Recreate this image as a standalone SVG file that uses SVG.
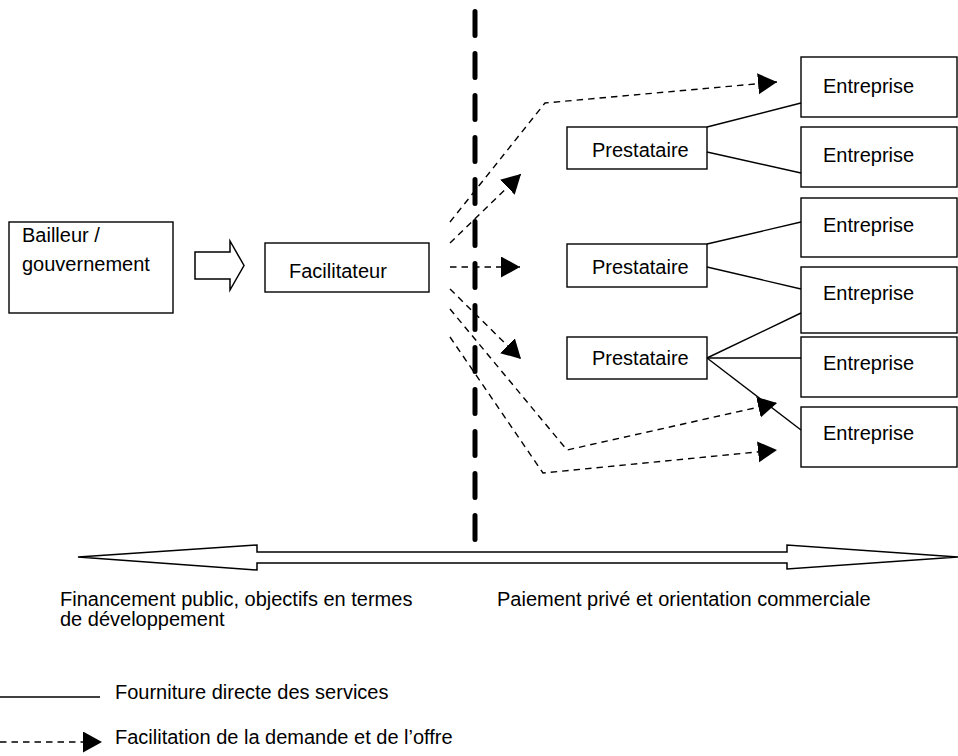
<svg xmlns="http://www.w3.org/2000/svg" width="958" height="756" viewBox="0 0 958 756">
<style>
  text { font-family: "Liberation Sans", Arial, sans-serif; font-size: 20px; fill: #000; }
  .box { fill: #fff; stroke: #000; stroke-width: 1.4; }
  .solid { fill: none; stroke: #000; stroke-width: 1.4; }
  .dash { fill: none; stroke: #000; stroke-width: 1.4; stroke-dasharray: 6.5 5; }
  .vdash { fill: none; stroke: #000; stroke-width: 5; stroke-dasharray: 24 18; stroke-linecap: round; }
  .hollow { fill: #fff; stroke: #000; stroke-width: 1.5; stroke-linejoin: miter; }
</style>
<defs>
  <marker id="ah" markerUnits="userSpaceOnUse" markerWidth="20" markerHeight="22" refX="19" refY="10.5" orient="auto" viewBox="0 0 20 22">
    <path d="M0,0 L19,10.5 L0,21 z" fill="#000"/>
  </marker>
</defs>
<rect width="958" height="756" fill="#fff"/>

<g id="bailleur">
  <rect class="box" x="9" y="222" width="164" height="91"/>
  <text x="22" y="242">Bailleur /</text>
  <text x="22" y="271">gouvernement</text>
</g>

<g id="block-arrow">
  <polygon class="hollow" points="195,252 230,252 230,241 244,265.5 230,290 230,279 195,279"/>
</g>

<g id="facilitateur">
  <rect class="box" x="265" y="243" width="164" height="49"/>
  <text x="289" y="278">Facilitateur</text>
</g>

<g id="prestataire1">
  <rect class="box" x="567" y="127" width="140" height="42"/>
  <text x="592" y="157">Prestataire</text>
</g>
<g id="prestataire2">
  <rect class="box" x="567" y="244" width="140" height="43"/>
  <text x="592" y="274">Prestataire</text>
</g>
<g id="prestataire3">
  <rect class="box" x="567" y="337" width="140" height="42"/>
  <text x="592" y="365">Prestataire</text>
</g>

<g id="entreprise1">
  <rect class="box" x="801" y="57" width="156" height="60"/>
  <text x="823" y="93">Entreprise</text>
</g>
<g id="entreprise2">
  <rect class="box" x="801" y="127" width="156" height="60"/>
  <text x="823" y="162">Entreprise</text>
</g>
<g id="entreprise3">
  <rect class="box" x="801" y="198" width="156" height="59"/>
  <text x="823" y="232">Entreprise</text>
</g>
<g id="entreprise4">
  <rect class="box" x="801" y="267" width="156" height="66"/>
  <text x="823" y="300">Entreprise</text>
</g>
<g id="entreprise5">
  <rect class="box" x="801" y="337" width="156" height="60"/>
  <text x="823" y="370">Entreprise</text>
</g>
<g id="entreprise6">
  <rect class="box" x="801" y="407" width="156" height="60"/>
  <text x="823" y="440">Entreprise</text>
</g>

<g id="connectors">
  <line class="solid" x1="707" y1="127" x2="801" y2="103"/>
  <line class="solid" x1="707" y1="152" x2="801" y2="173"/>
  <line class="solid" x1="707" y1="244" x2="801" y2="222"/>
  <line class="solid" x1="707" y1="267" x2="801" y2="289"/>
  <line class="solid" x1="707" y1="358" x2="801" y2="313"/>
  <line class="solid" x1="707" y1="358" x2="801" y2="358"/>
  <line class="solid" x1="707" y1="358" x2="801" y2="430"/>

  <path class="dash" marker-end="url(#ah)" d="M450,222 L545,103 L777,82"/>
  <path class="dash" marker-end="url(#ah)" d="M450,243 L521,174"/>
  <path class="dash" marker-end="url(#ah)" d="M450,267 L520,267"/>
  <path class="dash" marker-end="url(#ah)" d="M450,289 L521,359"/>
  <path class="dash" marker-end="url(#ah)" d="M450,309 L567,450 L777,403"/>
  <path class="dash" marker-end="url(#ah)" d="M450,337 L543,473 L777,450"/>
</g>

<g id="divider">
  <line class="vdash" x1="475" y1="11.5" x2="475" y2="540"/>
</g>

<g id="double-arrow">
  <polygon class="hollow" points="78,557 257,545 257,552 787,552 787,545 958,557 787,569 787,563 257,563 257,570"/>
  <text x="60" y="606">Financement public, objectifs en termes</text>
  <text x="60" y="626">de développement</text>
  <text x="497" y="606">Paiement privé et orientation commerciale</text>
</g>

<g id="legend">
  <line class="solid" x1="0" y1="697" x2="100" y2="697"/>
  <text x="115" y="699">Fourniture directe des services</text>
  <path class="dash" marker-end="url(#ah)" d="M0,742 L102,742"/>
  <text x="115" y="744">Facilitation de la demande et de l’offre</text>
</g>
</svg>
